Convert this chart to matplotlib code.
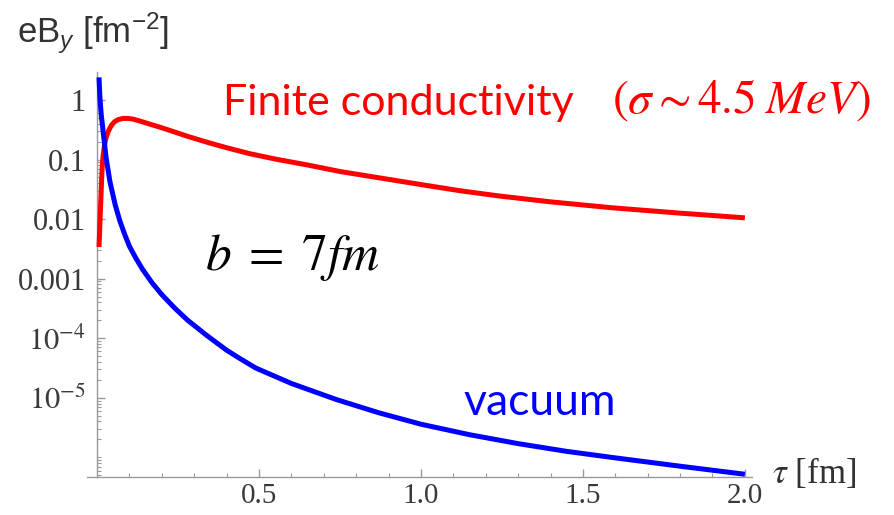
import numpy as np
import matplotlib
matplotlib.use("Agg")
import matplotlib.pyplot as plt
from matplotlib.ticker import FixedLocator, FixedFormatter, NullFormatter

plt.rcParams['mathtext.fontset'] = 'custom'
plt.rcParams['mathtext.rm'] = 'Liberation Sans'
plt.rcParams['mathtext.it'] = 'Liberation Sans:italic'

# finite conductivity (sigma ~ 4.5 MeV)
tau_red = [0.006, 0.008, 0.010, 0.012, 0.014, 0.016, 0.019, 0.023, 0.028, 0.035,
           0.045, 0.055, 0.065, 0.08, 0.095, 0.11, 0.13, 0.16, 0.19, 0.23,
           0.28, 0.34, 0.40, 0.47, 0.55, 0.65, 0.75, 0.84, 0.92, 1.00,
           1.12, 1.24, 1.40, 1.59, 1.80, 2.00]
eb_red = [0.0034, 0.0063, 0.0126, 0.023, 0.045, 0.076, 0.12, 0.174, 0.234, 0.30,
          0.38, 0.436, 0.468, 0.49, 0.49, 0.479, 0.447, 0.398, 0.355, 0.302,
          0.245, 0.195, 0.158, 0.126, 0.102, 0.081, 0.063, 0.0525, 0.0447, 0.038,
          0.030, 0.0245, 0.0195, 0.0155, 0.0126, 0.0105]

# vacuum
tau_blue = [0.006, 0.009, 0.013, 0.019, 0.028, 0.040, 0.056, 0.07, 0.085, 0.10,
            0.12, 0.14, 0.17, 0.20, 0.24, 0.28, 0.34, 0.40, 0.44, 0.49, 0.60,
            0.74, 0.87, 1.00, 1.15, 1.30, 1.45, 1.60, 1.80, 2.00]
eb_blue = [2.4, 1.07, 0.56, 0.29, 0.107, 0.042, 0.0174, 0.0095, 0.0056, 0.0035,
           0.0022, 0.00145, 8.5e-4, 5.4e-4, 3.2e-4, 2.0e-4, 1.1e-4, 6.3e-5, 4.6e-5, 3.16e-5, 1.74e-5,
           9.3e-6, 5.6e-6, 3.6e-6, 2.4e-6, 1.7e-6, 1.26e-6, 9.8e-7, 7.1e-7, 5.2e-7]

yticks = [1, 0.1, 0.01, 0.001, 1e-4, 1e-5]
ytick_labels = ["1", "0.1", "0.01", "0.001", r"$10^{-4}$", r"$10^{-5}$"]
xticks = [0.5, 1.0, 1.5, 2.0]
xtick_labels = ["0.5", "1.0", "1.5", "2.0"]

W, H = 894, 515
fig = plt.figure(figsize=(W / 100, H / 100), dpi=100)
ax = fig.add_axes([87 / W, 1 - 477 / H, (752 - 87) / W, (477 - 72) / H])

ax.plot(tau_red, eb_red, color='#ff0000', lw=3.6, solid_capstyle='butt', zorder=3)
ax.plot(tau_blue, eb_blue, color='#0000ff', lw=3.6, solid_capstyle='butt', zorder=3)

ax.set_yscale('log')
ax.set_xlim(-0.031, 2.022)
ax.set_ylim(10 ** -6.33, 10 ** 0.47)

axis_col = '#9a9a9a'
for s in ['top', 'right']:
    ax.spines[s].set_visible(False)
ax.spines['left'].set_position(('data', 0))
ax.spines['left'].set_color(axis_col)
ax.spines['bottom'].set_color(axis_col)
ax.spines['left'].set_linewidth(1.0)
ax.spines['bottom'].set_linewidth(1.0)

ax.xaxis.set_major_locator(FixedLocator(xticks))
ax.xaxis.set_major_formatter(FixedFormatter(xtick_labels))
ax.xaxis.set_minor_locator(FixedLocator([i / 10 for i in range(1, 20) if i % 5]))
ax.xaxis.set_minor_formatter(NullFormatter())

ax.yaxis.set_major_locator(FixedLocator(yticks))
ax.yaxis.set_major_formatter(FixedFormatter(ytick_labels))
minor_y = [m * 10.0 ** e for e in range(-7, 1) for m in range(2, 10)] + [1e-6]
ax.yaxis.set_minor_locator(FixedLocator(minor_y))
ax.yaxis.set_minor_formatter(NullFormatter())

ax.tick_params(which='major', direction='in', length=6, width=1.0, color=axis_col,
               labelsize=22, labelcolor='#3a3a3a', pad=8)
ax.tick_params(axis='x', which='major', labelsize=21, pad=4)
ax.tick_params(which='minor', direction='in', length=3, width=0.8, color=axis_col)
for lab in ax.get_xticklabels() + ax.get_yticklabels():
    lab.set_fontfamily('Liberation Serif')
    lab.set_math_fontfamily('stix')

# axis labels
fig.text(17 / W, 1 - 33 / H, r"eB$_{\it{y}}$ [fm$^{-2}$]", fontsize=25, color='#333333',
         family='Liberation Sans', va='center', ha='left')
fig.text(772 / W, 1 - 474 / H, r"$\tau$ [fm]", fontsize=25, color='#333333',
         family='Liberation Serif', va='center', ha='left', math_fontfamily='stix')

# annotations
fig.text(223 / W, 1 - 115 / H, "Finite conductivity", fontsize=31, color='#ff0000',
         family='Lato', va='baseline', ha='left')
fig.text(612 / W, 1 - 113 / H, r"$(\sigma{\sim}4.5\;MeV)$", fontsize=34, color='#ff0000',
         va='baseline', ha='left', math_fontfamily='stix')
fig.text(205 / W, 1 - 270 / H, r"$b\;=\;7fm$", fontsize=37, color='black',
         va='baseline', ha='left', math_fontfamily='stix')
fig.text(463 / W, 1 - 415 / H, "vacuum", fontsize=32, color='#0000ff',
         family='Lato', va='baseline', ha='left')

fig.savefig("out.png", dpi=100)
